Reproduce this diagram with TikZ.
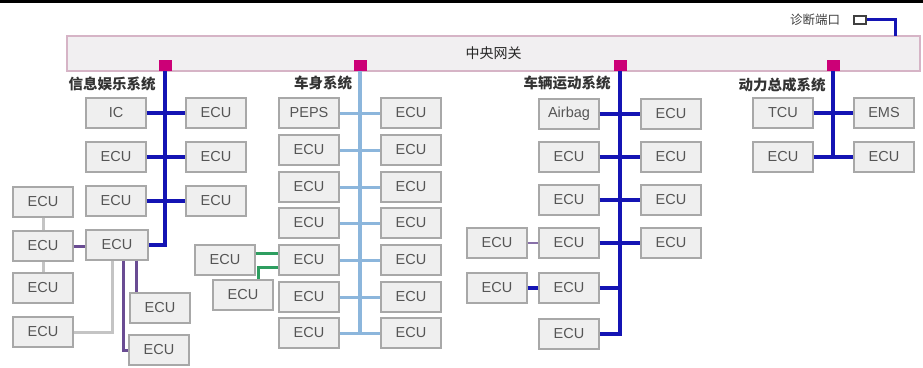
\documentclass[tikz,border=0pt]{standalone}
\usepackage{fontspec}
\setmainfont{Liberation Sans}
\newfontfamily\cjk{Noto Sans CJK SC}
\definecolor{boxfill}{HTML}{EFEFEF}
\definecolor{boxline}{HTML}{A8A8A8}
\definecolor{boxtext}{HTML}{555555}
\definecolor{busblue}{HTML}{1414B4}
\definecolor{lightbus}{HTML}{8CB6DC}
\definecolor{purp}{HTML}{6A4C93}
\definecolor{lgray}{HTML}{C4C4C4}
\definecolor{grn}{HTML}{2E9E60}
\definecolor{mag}{HTML}{CC0077}
\definecolor{gwfill}{HTML}{F1EFF1}
\definecolor{gwline}{HTML}{D6B4C6}
\tikzset{
  ecubox/.style={rectangle, fill=boxfill, draw=boxline, line width=1.4pt,
    minimum width=60pt, minimum height=30pt, inner sep=0pt,
    font=\fontsize{14.5}{14}\selectfont, text=boxtext},
  magsq/.style={rectangle, fill=mag, draw=none, minimum width=13pt, minimum height=11pt, inner sep=0pt},
  syslabel/.style={font=\cjk\bfseries\fontsize{14.5}{15}\selectfont, text=black!80, inner sep=0pt},
  bus/.style={draw=busblue, line width=4.5pt},
  branch/.style={draw=busblue, line width=3.5pt},
  lbus/.style={draw=lightbus, line width=4pt},
  lbranch/.style={draw=lightbus, line width=3pt},
  purpline/.style={draw=purp, line width=3pt},
  grayline/.style={draw=lgray, line width=3pt},
  greenline/.style={draw=grn, line width=3pt},
}
\begin{document}
\begin{tikzpicture}[x=1pt,y=-1pt]
\useasboundingbox (0,0) rectangle (923,367);
\fill[white] (0,0) rectangle (923,367);
\fill[black] (0,0) rectangle (923,3);

% gateway
\node[rectangle, fill=gwfill, draw=gwline, line width=1.2pt, minimum width=853pt, minimum height=35pt, inner sep=0pt] (gw) at (493.5,53.5) {};
\node[font=\cjk\fontsize{14}{14}\selectfont, text=black!85, inner sep=0pt] (gwt) at (493.5,53) {中央网关};
\node[magsq] (m1) at (165,65.5) {};
\node[magsq] (m2) at (360,65.5) {};
\node[magsq] (m3) at (620,65.5) {};
\node[magsq] (m4) at (833,65.5) {};

% diagnostic port
\node[font=\cjk\fontsize{12.5}{13}\selectfont, text=black!75, inner sep=0pt] (diagt) at (815,19.5) {诊断端口};
\node[rectangle, draw=black!75, fill=white, line width=2pt, minimum width=12pt, minimum height=8pt, inner sep=0pt] (dp) at (859.5,19.5) {};
\coordinate (dj) at (895,36);
\draw[bus, line width=3pt] (dp.east) -| (dj);

% ===== infotainment =====
\node[syslabel] (s1) at (112,84) {信息娱乐系统};
\node[ecubox] (IC) at (116,113) {IC};
\node[ecubox] (A1R) at (216,113) {ECU};
\node[ecubox] (A2L) at (116,157) {ECU};
\node[ecubox] (A2R) at (216,157) {ECU};
\node[ecubox] (A3L) at (116,201) {ECU};
\node[ecubox] (A3R) at (216,201) {ECU};
\node[ecubox, minimum width=62pt] (A4) at (117,245) {ECU};
\node[ecubox] (C1) at (43,202) {ECU};
\node[ecubox] (C2) at (43,246) {ECU};
\node[ecubox] (C3) at (43,288) {ECU};
\node[ecubox] (C4) at (43,332) {ECU};
\node[ecubox] (D1) at (160,308) {ECU};
\node[ecubox] (D2) at (159,350) {ECU};

\draw[grayline] (C1.south) -- (C2.north);
\draw[grayline] (C2.south) -- (C3.north);
\draw[grayline] (C4.east) -| ([xshift=-5pt]A4.south);
\draw[purpline] (C2.east) -- (A4.west |- C2.east);
\draw[purpline] ([xshift=6pt]A4.south) |- (D2.west);
\draw[purpline] ([xshift=19pt]A4.south) -- ([xshift=19pt]A4.south |- D1.north);

\draw[branch] (IC.east) -- (A1R.west);
\draw[branch] (A2L.east) -- (A2R.west);
\draw[branch] (A3L.east) -- (A3R.west);
\draw[bus] (m1.south) |- (A4.east);

% ===== body =====
\node[syslabel] (s2) at (323,83) {车身系统};
\node[ecubox] (B1L) at (309,113) {PEPS};
\node[ecubox] (B1R) at (411,113) {ECU};
\node[ecubox] (B2L) at (309,150) {ECU};
\node[ecubox] (B2R) at (411,150) {ECU};
\node[ecubox] (B3L) at (309,187) {ECU};
\node[ecubox] (B3R) at (411,187) {ECU};
\node[ecubox] (B4L) at (309,223) {ECU};
\node[ecubox] (B4R) at (411,223) {ECU};
\node[ecubox] (B5L) at (309,260) {ECU};
\node[ecubox] (B5R) at (411,260) {ECU};
\node[ecubox] (B6L) at (309,297) {ECU};
\node[ecubox] (B6R) at (411,297) {ECU};
\node[ecubox] (B7L) at (309,333) {ECU};
\node[ecubox] (B7R) at (411,333) {ECU};
\node[ecubox] (G1) at (225,260) {ECU};
\node[ecubox] (G2) at (243,295) {ECU};

\draw[lbus] (m2.south) -- (m2.south |- B7L.east);
\foreach \r in {1,...,7} {\draw[lbranch] (B\r L.east) -- (B\r R.west);}
\draw[greenline] ([yshift=7pt]G1.east) -- ([yshift=7pt]B5L.west);
\coordinate (gj) at (258,267);
\draw[greenline] ([yshift=-7pt]B5L.west) -- (gj) -- (gj |- G2.north);

% ===== vehicle motion =====
\node[syslabel] (s3) at (567,83) {车辆运动系统};
\node[ecubox] (R1L) at (569,114) {Airbag};
\node[ecubox] (R1R) at (671,114) {ECU};
\node[ecubox] (R2L) at (569,157) {ECU};
\node[ecubox] (R2R) at (671,157) {ECU};
\node[ecubox] (R3L) at (569,200) {ECU};
\node[ecubox] (R3R) at (671,200) {ECU};
\node[ecubox] (R4L) at (569,243) {ECU};
\node[ecubox] (R4R) at (671,243) {ECU};
\node[ecubox] (R4F) at (497,243) {ECU};
\node[ecubox] (R5L) at (569,288) {ECU};
\node[ecubox] (R5F) at (497,288) {ECU};
\node[ecubox] (R6L) at (569,334) {ECU};

\foreach \r in {1,...,4} {\draw[branch] (R\r L.east) -- (R\r R.west);}
\draw[branch] (R5L.east) -- (R5L.east -| m3.south);
\draw[bus] (m3.south) |- (R6L.east);
\draw[draw=purp!80, line width=2.5pt] (R4F.east) -- (R4L.west);
\draw[branch] (R5F.east) -- (R5L.west);

% ===== powertrain =====
\node[syslabel] (s4) at (782,85) {动力总成系统};
\node[ecubox] (P1L) at (783,113) {TCU};
\node[ecubox] (P1R) at (884,113) {EMS};
\node[ecubox] (P2L) at (783,157) {ECU};
\node[ecubox] (P2R) at (884,157) {ECU};
\draw[branch] (P1L.east) -- (P1R.west);
\draw[branch] (P2L.east) -- (P2R.west);
\draw[bus] (m4.south) -- (m4.south |- P2L.east);
\end{tikzpicture}
\end{document}
